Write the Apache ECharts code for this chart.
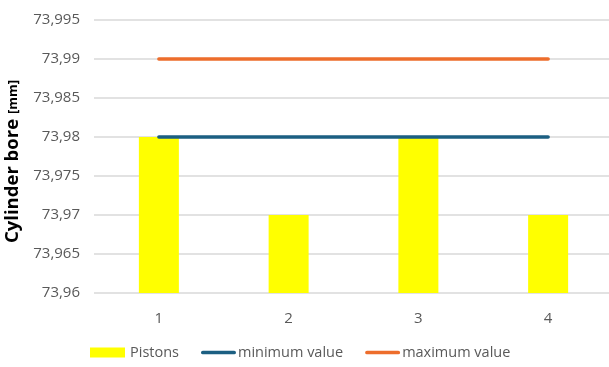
<!DOCTYPE html>
<html>
<head>
<meta charset="utf-8">
<script src="https://cdn.jsdelivr.net/npm/echarts@6/dist/echarts.min.js"></script>
<style>
  html, body { margin: 0; padding: 0; background: #fff; }
  #chart { width: 609px; height: 367px; }
</style>
</head>
<body>
<div id="chart"></div>
<script>
// Piston measurements against the bore tolerance limits
const categories = ['1', '2', '3', '4'];
const pistons = [73.98, 73.97, 73.98, 73.97];
const minimumValue = [73.98, 73.98, 73.98, 73.98];
const maximumValue = [73.99, 73.99, 73.99, 73.99];

const FONT = '"Open Sans", "Noto Sans", sans-serif';
// thick rounded stroke used as the legend marker of the limit lines
const LINE_ICON = 'path://M2,0 L36,0 A2,2 0 0 1 36,4 L2,4 A2,2 0 0 1 2,0 Z';

const chart = echarts.init(document.getElementById('chart'), null, { renderer: 'canvas' });

chart.setOption({
  animation: false,
  backgroundColor: '#ffffff',
  grid: {
    left: 94, top: 20, right: -4, height: 273,
    containLabel: false,
    outerBoundsMode: 'none'
  },
  legend: {
    bottom: 2,
    left: 85,
    itemGap: 22,
    itemWidth: 35,
    itemHeight: 10,
    textStyle: { color: '#595959', fontSize: 14.5, fontFamily: FONT },
    data: [
      { name: 'Pistons', icon: 'rect' },
      { name: 'minimum value', icon: LINE_ICON, textStyle: { padding: [0, 0, 0, -3] } },
      { name: 'maximum value', icon: LINE_ICON, textStyle: { padding: [0, 0, 0, -3] } }
    ]
  },
  xAxis: {
    type: 'category',
    data: categories,
    axisLine: { show: false },
    axisTick: { show: false },
    axisLabel: { color: '#595959', fontSize: 15, fontFamily: FONT, margin: 18 }
  },
  yAxis: {
    type: 'value',
    min: 73.96,
    max: 73.995,
    interval: 0.005,
    name: '{a|Cylinder bore }{b|[mm]}',
    nameLocation: 'middle',
    nameGap: 66,
    nameRotate: 90,
    nameTextStyle: {
      padding: [0, 10, 0, 0],
      rich: {
        a: { fontSize: 18.5, fontWeight: 'bold', color: '#000', fontFamily: FONT },
        b: { fontSize: 13, fontWeight: 'bold', color: '#000', fontFamily: FONT }
      }
    },
    axisLine: { show: false },
    axisTick: { show: false },
    splitLine: { lineStyle: { color: '#d9d9d9', width: 1.5 } },
    axisLabel: {
      color: '#595959',
      fontSize: 15,
      fontFamily: FONT,
      margin: 14,
      formatter: v => String(Math.round(v * 1000) / 1000).replace('.', ',')
    }
  },
  series: [
    {
      name: 'Pistons',
      type: 'bar',
      data: pistons,
      barWidth: 40,
      itemStyle: { color: '#ffff00' }
    },
    {
      name: 'minimum value',
      type: 'line',
      data: minimumValue,
      symbol: 'none',
      lineStyle: { color: '#1c5f82', width: 3.5, cap: 'round' },
      itemStyle: { color: '#1c5f82' }
    },
    {
      name: 'maximum value',
      type: 'line',
      data: maximumValue,
      symbol: 'none',
      lineStyle: { color: '#ed6d2c', width: 3.5, cap: 'round' },
      itemStyle: { color: '#ed6d2c' }
    }
  ]
});
</script>
</body>
</html>
